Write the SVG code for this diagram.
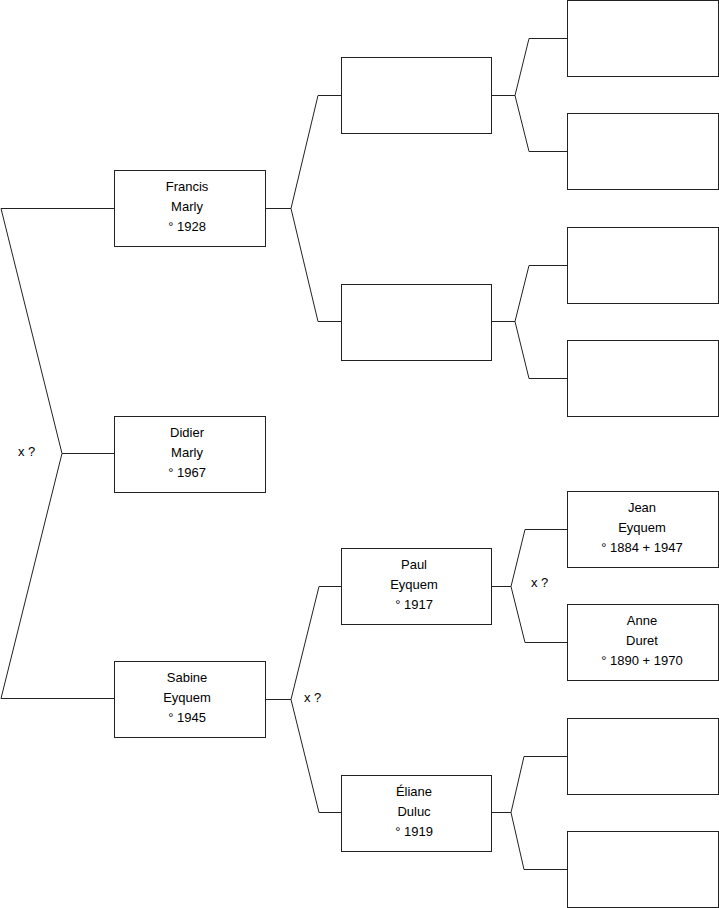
<svg xmlns="http://www.w3.org/2000/svg" width="719" height="908" viewBox="0 0 719 908">
<style>
.box{fill:#fff;stroke:#222;stroke-width:1}
.ln{fill:none;stroke:#222;stroke-width:1}
text{font-family:"Liberation Sans",Arial,sans-serif;font-size:13px;fill:#000}
.c{text-anchor:middle}
</style>
<rect width="719" height="908" fill="#fff"/>
<g id="connectors" class="ln">
<path d="M114,208.5 H1 L62,453.5 L1,698.5 H114"/>
<path d="M62,453.5 H114"/>
<path d="M341,95.5 H318 L291,208.5 L318,321.5 H341"/>
<path d="M265,208.5 H291"/>
<path d="M341,586.5 H319 L291,699.5 L319,812.5 H341"/>
<path d="M265,699.5 H291"/>
<path d="M567,38.5 H529 L515,95.5 L529,151.5 H567"/>
<path d="M492,95.5 H515"/>
<path d="M567,265.5 H529 L515,321.5 L529,378.5 H567"/>
<path d="M492,321.5 H515"/>
<path d="M567,529.5 H525 L511,586.5 L525,642.5 H567"/>
<path d="M492,586.5 H511"/>
<path d="M567,756.5 H524 L511,812.5 L524,869.5 H567"/>
<path d="M492,812.5 H511"/>
</g>
<g id="labels">
<text x="18" y="456">x ?</text>
<text x="304" y="702">x ?</text>
<text x="531" y="587">x ?</text>
</g>
<g id="francis"><rect class="box" x="114.5" y="170.5" width="151" height="76"/>
<text class="c" x="187" y="191">Francis</text><text class="c" x="187" y="211">Marly</text><text class="c" x="187" y="231">° 1928</text></g>
<g id="didier"><rect class="box" x="114.5" y="416.5" width="151" height="76"/>
<text class="c" x="187" y="437">Didier</text><text class="c" x="187" y="457">Marly</text><text class="c" x="187" y="477">° 1967</text></g>
<g id="sabine"><rect class="box" x="114.5" y="661.5" width="151" height="76"/>
<text class="c" x="187" y="682">Sabine</text><text class="c" x="187" y="702">Eyquem</text><text class="c" x="187" y="722">° 1945</text></g>
<g id="f-father"><rect class="box" x="341.5" y="57.5" width="150" height="76"/></g>
<g id="f-mother"><rect class="box" x="341.5" y="284.5" width="150" height="76"/></g>
<g id="paul"><rect class="box" x="341.5" y="548.5" width="150" height="76"/>
<text class="c" x="414" y="569">Paul</text><text class="c" x="414" y="589">Eyquem</text><text class="c" x="414" y="609">° 1917</text></g>
<g id="eliane"><rect class="box" x="341.5" y="775.5" width="150" height="76"/>
<text class="c" x="414" y="796">Éliane</text><text class="c" x="414" y="816">Duluc</text><text class="c" x="414" y="836">° 1919</text></g>
<g id="ff-father"><rect class="box" x="567.5" y="0.5" width="151" height="76"/></g>
<g id="ff-mother"><rect class="box" x="567.5" y="113.5" width="151" height="76"/></g>
<g id="fm-father"><rect class="box" x="567.5" y="227.5" width="151" height="76"/></g>
<g id="fm-mother"><rect class="box" x="567.5" y="340.5" width="151" height="76"/></g>
<g id="jean"><rect class="box" x="567.5" y="491.5" width="151" height="76"/>
<text class="c" x="642" y="512">Jean</text><text class="c" x="642" y="532">Eyquem</text><text class="c" x="642" y="552">° 1884 + 1947</text></g>
<g id="anne"><rect class="box" x="567.5" y="604.5" width="151" height="76"/>
<text class="c" x="642" y="625">Anne</text><text class="c" x="642" y="645">Duret</text><text class="c" x="642" y="665">° 1890 + 1970</text></g>
<g id="em-father"><rect class="box" x="567.5" y="718.5" width="151" height="76"/></g>
<g id="em-mother"><rect class="box" x="567.5" y="831.5" width="151" height="76"/></g>
</svg>
